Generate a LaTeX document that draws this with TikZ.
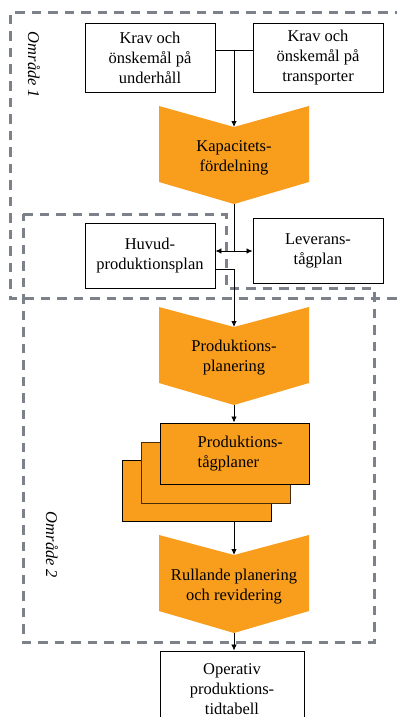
\documentclass[tikz,border=0pt]{standalone}
\usepackage{fontspec}
\setmainfont{Liberation Serif}
\usetikzlibrary{calc,arrows.meta}
\definecolor{orng}{RGB}{248,157,28}
\definecolor{dgray}{RGB}{125,129,138}
\definecolor{dbrown}{RGB}{70,45,10}
\tikzset{
  txt/.style={font=\fontsize{16.5}{20}\selectfont, align=center, inner sep=0pt},
  box/.style={txt, draw=black, line width=0.9pt, fill=white},
  chev/.style={txt, minimum width=150pt},
  stackbox/.style={draw=dbrown, line width=1pt, fill=orng, minimum width=149pt, minimum height=61pt, inner sep=0pt},
  region/.style={draw=dgray, line width=3pt, dash pattern=on 9.5pt off 7pt},
  conn/.style={draw=black, line width=0.8pt},
  arr/.style={conn, -{Latex[length=6pt,width=5.5pt]}},
  lab/.style={font=\fontsize{16.5}{20}\selectfont\itshape, rotate=-90, inner sep=0pt}
}
\begin{document}
\begin{tikzpicture}[x=1pt,y=-1pt]
\useasboundingbox (0,0) rectangle (396,717);
% regions
\draw[region] (404,13) -- (10,13) -- (10,298) -- (404,298);
\draw[region] (23,214) -- (226,214) -- (226,288) -- (374,288) -- (374,642) -- (23,642) -- cycle;
\node[lab] (omr1) at (34,65) {Område 1};
\node[lab] (omr2) at (52,545) {Område 2};
% top boxes
\node[box, minimum width=130pt, minimum height=69pt] (kravU) at (150,57.5) {Krav och\\önskemål på\\underhåll};
\node[box, minimum width=130pt, minimum height=69pt] (kravT) at (318,57.5) {Krav och\\önskemål på\\transporter};
% Kapacitetsfordelning chevron
\fill[orng] (159,106) -- (234,127) -- (309,106) -- (309,182) -- (234,204) -- (159,182) -- cycle;
\coordinate (kapin) at (234,127);
\coordinate (kapout) at (234,204);
\node[chev] (kap) at (234,158) {Kapacitets-\\fördelning};
% middle boxes
\node[box, minimum width=130pt, minimum height=65pt] (huvud) at (150,255.5) {Huvud-\\produktionsplan};
\node[box, minimum width=130pt, minimum height=65pt] (lev) at (318,250.5) {Leverans-\\tågplan};
% Produktionsplanering chevron
\fill[orng] (159,307) -- (234,327) -- (309,307) -- (309,383) -- (234,405) -- (159,383) -- cycle;
\coordinate (ppin) at (234,327);
\coordinate (ppout) at (234,405);
\node[chev] (pp) at (234,358) {Produktions-\\planering};
% stack
\node[stackbox, draw=black] (back) at (196.5,490.5) {};
\node[stackbox] (mid) at (215.5,472.5) {};
\node[stackbox, draw=black] (front) at (234.5,453.5) {};
\node[txt, align=left, anchor=west] (fronttxt) at (197.5,454) {Produktions-\\tågplaner};
% Rullande chevron
\fill[orng] (159,535) -- (234,555) -- (309,535) -- (309,611) -- (234,633) -- (159,611) -- cycle;
\coordinate (rullin) at (234,555);
\coordinate (rullout) at (234,633);
\node[chev] (rull) at (234,587) {Rullande planering\\och revidering};
% Operativ
\node[box, minimum width=144pt, minimum height=76pt] (op) at (232,689) {Operativ\\produktions-\\tidtabell};
% connectors
\coordinate (j1) at (234,50);
\draw[conn] (kravU.east |- j1) -- (kravT.west |- j1);
\draw[arr] (j1) -- (kapin);
\coordinate (j2) at (234,251);
\draw[conn] (kapout) -- (j2);
\draw[arr] (j2) -- (huvud.east |- j2);
\draw[arr] (j2) -- (lev.west |- j2);
\coordinate (j3) at (234,269);
\draw[arr] (huvud.east |- j3) -- (j3) -- (ppin);
\draw[arr] (ppout) -- (ppout |- front.north);
\draw[arr] (rullin |- back.south) -- (rullin);
\draw[arr] (rullout) -- (rullout |- op.north);
\end{tikzpicture}
\end{document}
